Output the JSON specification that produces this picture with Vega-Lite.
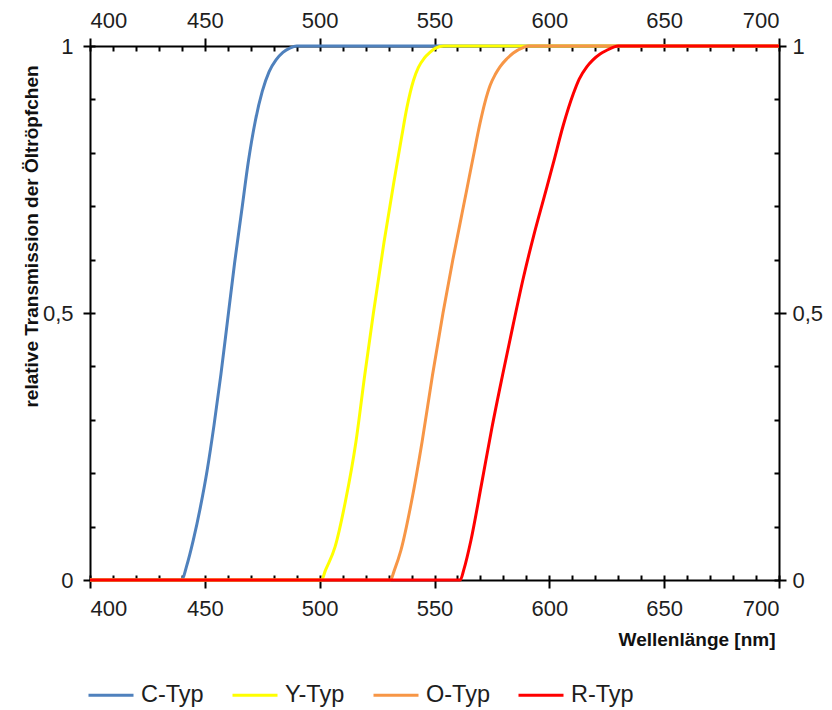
{
  "$schema": "https://vega.github.io/schema/vega-lite/v6.json",
  "width": 689,
  "height": 534,
  "autosize": "none",
  "padding": {"left": 90, "top": 46, "right": 53, "bottom": 130},
  "background": "white",
  "config": {
    "view": {"stroke": null},
    "font": "Liberation Sans",
    "axis": {
      "grid": false,
      "domainColor": "black",
      "domainWidth": 2,
      "tickColor": "black",
      "tickWidth": 2,
      "labelColor": "#1e1e1e",
      "labelFont": "Liberation Sans",
      "labelFontSize": 22,
      "titleFont": "Liberation Sans",
      "titleColor": "#111111",
      "titleFontWeight": "bold",
      "titleFontSize": 19
    }
  },
  "data": {
    "values": [
      {"nm": 400, "T": 0, "Typ": "C-Typ"},
      {"nm": 440, "T": 0, "Typ": "C-Typ"},
      {"nm": 442, "T": 0.025, "Typ": "C-Typ"},
      {"nm": 445, "T": 0.075, "Typ": "C-Typ"},
      {"nm": 448, "T": 0.135, "Typ": "C-Typ"},
      {"nm": 451, "T": 0.205, "Typ": "C-Typ"},
      {"nm": 454, "T": 0.29, "Typ": "C-Typ"},
      {"nm": 457, "T": 0.385, "Typ": "C-Typ"},
      {"nm": 460, "T": 0.49, "Typ": "C-Typ"},
      {"nm": 463, "T": 0.595, "Typ": "C-Typ"},
      {"nm": 466, "T": 0.69, "Typ": "C-Typ"},
      {"nm": 469, "T": 0.785, "Typ": "C-Typ"},
      {"nm": 472, "T": 0.86, "Typ": "C-Typ"},
      {"nm": 475, "T": 0.915, "Typ": "C-Typ"},
      {"nm": 478, "T": 0.952, "Typ": "C-Typ"},
      {"nm": 481, "T": 0.974, "Typ": "C-Typ"},
      {"nm": 484, "T": 0.988, "Typ": "C-Typ"},
      {"nm": 487, "T": 0.996, "Typ": "C-Typ"},
      {"nm": 490, "T": 1, "Typ": "C-Typ"},
      {"nm": 700, "T": 1, "Typ": "C-Typ"},

      {"nm": 400, "T": 0, "Typ": "Y-Typ"},
      {"nm": 500.8, "T": 0, "Typ": "Y-Typ"},
      {"nm": 502.5, "T": 0.018, "Typ": "Y-Typ"},
      {"nm": 506.7, "T": 0.062, "Typ": "Y-Typ"},
      {"nm": 511.2, "T": 0.147, "Typ": "Y-Typ"},
      {"nm": 515.8, "T": 0.259, "Typ": "Y-Typ"},
      {"nm": 519.6, "T": 0.383, "Typ": "Y-Typ"},
      {"nm": 523.4, "T": 0.5, "Typ": "Y-Typ"},
      {"nm": 528, "T": 0.632, "Typ": "Y-Typ"},
      {"nm": 532.3, "T": 0.745, "Typ": "Y-Typ"},
      {"nm": 535.7, "T": 0.83, "Typ": "Y-Typ"},
      {"nm": 538, "T": 0.885, "Typ": "Y-Typ"},
      {"nm": 540.8, "T": 0.935, "Typ": "Y-Typ"},
      {"nm": 543, "T": 0.96, "Typ": "Y-Typ"},
      {"nm": 545.5, "T": 0.977, "Typ": "Y-Typ"},
      {"nm": 548, "T": 0.988, "Typ": "Y-Typ"},
      {"nm": 550.5, "T": 0.996, "Typ": "Y-Typ"},
      {"nm": 554, "T": 1, "Typ": "Y-Typ"},
      {"nm": 700, "T": 1, "Typ": "Y-Typ"},

      {"nm": 400, "T": 0, "Typ": "O-Typ"},
      {"nm": 530.8, "T": 0, "Typ": "O-Typ"},
      {"nm": 532.5, "T": 0.018, "Typ": "O-Typ"},
      {"nm": 535.4, "T": 0.056, "Typ": "O-Typ"},
      {"nm": 540, "T": 0.147, "Typ": "O-Typ"},
      {"nm": 544.6, "T": 0.259, "Typ": "O-Typ"},
      {"nm": 549.1, "T": 0.383, "Typ": "O-Typ"},
      {"nm": 553.7, "T": 0.5, "Typ": "O-Typ"},
      {"nm": 558, "T": 0.6, "Typ": "O-Typ"},
      {"nm": 561, "T": 0.665, "Typ": "O-Typ"},
      {"nm": 564, "T": 0.73, "Typ": "O-Typ"},
      {"nm": 566.9, "T": 0.793, "Typ": "O-Typ"},
      {"nm": 569.8, "T": 0.855, "Typ": "O-Typ"},
      {"nm": 572, "T": 0.895, "Typ": "O-Typ"},
      {"nm": 574.2, "T": 0.926, "Typ": "O-Typ"},
      {"nm": 576.5, "T": 0.947, "Typ": "O-Typ"},
      {"nm": 578.5, "T": 0.961, "Typ": "O-Typ"},
      {"nm": 581.5, "T": 0.976, "Typ": "O-Typ"},
      {"nm": 584.3, "T": 0.987, "Typ": "O-Typ"},
      {"nm": 588.6, "T": 0.997, "Typ": "O-Typ"},
      {"nm": 591, "T": 1, "Typ": "O-Typ"},
      {"nm": 700, "T": 1, "Typ": "O-Typ"},

      {"nm": 400, "T": 0, "Typ": "R-Typ"},
      {"nm": 561.2, "T": 0, "Typ": "R-Typ"},
      {"nm": 562.8, "T": 0.02, "Typ": "R-Typ"},
      {"nm": 565.9, "T": 0.075, "Typ": "R-Typ"},
      {"nm": 570.5, "T": 0.18, "Typ": "R-Typ"},
      {"nm": 575, "T": 0.285, "Typ": "R-Typ"},
      {"nm": 579.6, "T": 0.383, "Typ": "R-Typ"},
      {"nm": 584.1, "T": 0.475, "Typ": "R-Typ"},
      {"nm": 588.7, "T": 0.566, "Typ": "R-Typ"},
      {"nm": 593.2, "T": 0.645, "Typ": "R-Typ"},
      {"nm": 597.8, "T": 0.718, "Typ": "R-Typ"},
      {"nm": 601.7, "T": 0.78, "Typ": "R-Typ"},
      {"nm": 606.1, "T": 0.852, "Typ": "R-Typ"},
      {"nm": 610.4, "T": 0.91, "Typ": "R-Typ"},
      {"nm": 613, "T": 0.938, "Typ": "R-Typ"},
      {"nm": 616.3, "T": 0.961, "Typ": "R-Typ"},
      {"nm": 619, "T": 0.974, "Typ": "R-Typ"},
      {"nm": 622.1, "T": 0.985, "Typ": "R-Typ"},
      {"nm": 625, "T": 0.992, "Typ": "R-Typ"},
      {"nm": 628, "T": 0.998, "Typ": "R-Typ"},
      {"nm": 630, "T": 1, "Typ": "R-Typ"},
      {"nm": 700, "T": 1, "Typ": "R-Typ"}
    ]
  },
  "layer": [
    {
      "mark": {"type": "line", "strokeWidth": 3, "interpolate": "monotone"},
      "encoding": {
        "x": {
          "field": "nm",
          "type": "quantitative",
          "scale": {"domain": [400, 700], "nice": false, "zero": false},
          "axis": {
            "orient": "bottom",
            "values": [400, 450, 500, 550, 600, 650, 700],
            "tickSize": 8,
            "labelPadding": 10,
            "title": "Wellenlänge  [nm]",
            "titleAnchor": "end",
            "titleAlign": "right",
            "titleX": 685,
            "titleY": 65,
            "titleBaseline": "alphabetic"
          }
        },
        "y": {
          "field": "T",
          "type": "quantitative",
          "scale": {"domain": [0, 1], "nice": false},
          "axis": {
            "orient": "left",
            "values": [0, 0.5, 1],
            "format": ".1~f",
            "labelExpr": "replace(datum.label, '.', ',')",
            "tickSize": 7,
            "labelPadding": 10,
            "title": "relative Transmission  der Öltröpfchen",
            "titleAngle": -90,
            "titleAlign": "center",
            "titleBaseline": "alphabetic",
            "titleX": -53,
            "titleY": 190
          }
        },
        "color": {
          "field": "Typ",
          "type": "nominal",
          "sort": ["C-Typ", "Y-Typ", "O-Typ", "R-Typ"],
          "scale": {
            "domain": ["C-Typ", "Y-Typ", "O-Typ", "R-Typ"],
            "range": ["#4F81BD", "#FFFF00", "#F79646", "#FF0000"]
          },
          "legend": {
            "title": null,
            "orient": "none",
            "direction": "horizontal",
            "legendX": -3,
            "legendY": 625,
            "symbolType": "stroke",
            "symbolSize": 2025,
            "symbolStrokeWidth": 3,
            "labelFont": "Liberation Sans",
            "labelFontSize": 23.5,
            "labelColor": "#1e1e1e",
            "labelOffset": 6,
            "columnPadding": 22
          }
        }
      }
    },
    {
      "mark": {"type": "line", "opacity": 0},
      "encoding": {
        "x": {
          "field": "nm",
          "type": "quantitative",
          "axis": {
            "orient": "bottom",
            "values": [400, 410, 420, 430, 440, 450, 460, 470, 480, 490, 500, 510, 520, 530, 540, 550, 560, 570, 580, 590, 600, 610, 620, 630, 640, 650, 660, 670, 680, 690, 700],
            "tickSize": -5,
            "labels": false,
            "domain": false,
            "title": null
          }
        },
        "y": {
          "field": "T",
          "type": "quantitative",
          "axis": {
            "orient": "left",
            "values": [0, 0.1, 0.2, 0.3, 0.4, 0.5, 0.6, 0.7, 0.8, 0.9, 1],
            "tickSize": -5,
            "labels": false,
            "domain": false,
            "title": null
          }
        },
        "detail": {"field": "Typ"}
      }
    },
    {
      "mark": {"type": "line", "opacity": 0},
      "encoding": {
        "x": {
          "field": "nm",
          "type": "quantitative",
          "axis": {
            "orient": "top",
            "values": [400, 450, 500, 550, 600, 650, 700],
            "tickSize": 8,
            "labelPadding": 6,
            "title": null
          }
        },
        "y": {
          "field": "T",
          "type": "quantitative",
          "axis": {
            "orient": "right",
            "values": [0, 0.5, 1],
            "format": ".1~f",
            "labelExpr": "replace(datum.label, '.', ',')",
            "tickSize": 7,
            "labelPadding": 6,
            "title": null
          }
        },
        "detail": {"field": "Typ"}
      }
    },
    {
      "mark": {"type": "line", "opacity": 0},
      "encoding": {
        "x": {
          "field": "nm",
          "type": "quantitative",
          "axis": {
            "orient": "top",
            "values": [400, 410, 420, 430, 440, 450, 460, 470, 480, 490, 500, 510, 520, 530, 540, 550, 560, 570, 580, 590, 600, 610, 620, 630, 640, 650, 660, 670, 680, 690, 700],
            "tickSize": -5,
            "labels": false,
            "domain": false,
            "title": null
          }
        },
        "y": {
          "field": "T",
          "type": "quantitative",
          "axis": {
            "orient": "right",
            "values": [0, 0.1, 0.2, 0.3, 0.4, 0.5, 0.6, 0.7, 0.8, 0.9, 1],
            "tickSize": -5,
            "labels": false,
            "domain": false,
            "title": null
          }
        },
        "detail": {"field": "Typ"}
      }
    }
  ],
  "resolve": {"axis": {"x": "independent", "y": "independent"}}
}
